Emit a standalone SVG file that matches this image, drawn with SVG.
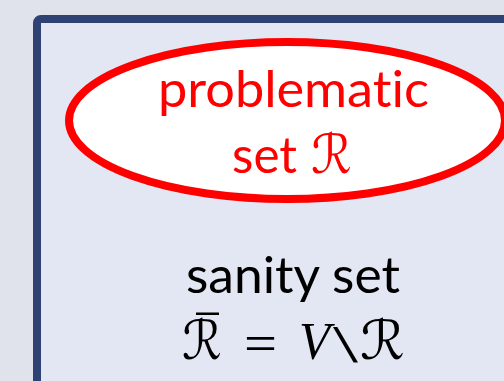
<svg xmlns="http://www.w3.org/2000/svg" width="504" height="381" viewBox="0 0 504 381">
<style>
.t{font-family:Lato,"Open Sans","Liberation Sans",sans-serif;font-size:50px;font-variant-ligatures:none}
.r{font-family:"DejaVu Sans",sans-serif;font-size:54px}
.m{font-family:"Liberation Serif","DejaVu Serif",serif;font-size:52px}
</style>
<rect x="0" y="0" width="504" height="381" fill="#e0e3eb"/>
<g id="frame">
<rect x="37" y="19" width="500" height="400" rx="4" fill="#e3e7f3" stroke="#2e4273" stroke-width="8"/>
</g>
<g id="problematic">
<ellipse cx="287" cy="120.5" rx="218" ry="78.5" fill="#ffffff" stroke="#ff0000" stroke-width="8"/>
<text class="t" x="158" y="107" fill="#ff0000" textLength="271" lengthAdjust="spacingAndGlyphs">problematic</text>
<text class="t" x="232" y="173" fill="#ff0000" textLength="65" lengthAdjust="spacingAndGlyphs">set</text>
<text class="r" x="311" y="173" fill="#ff0000" textLength="41" lengthAdjust="spacingAndGlyphs">ℛ</text>
</g>
<g id="sanity">
<text class="t" x="186" y="293" fill="#000000" textLength="214" lengthAdjust="spacingAndGlyphs">sanity set</text>
<text class="r" x="182" y="359" fill="#000000" textLength="40" lengthAdjust="spacingAndGlyphs">ℛ</text>
<rect x="196" y="312.5" width="23" height="2.5" fill="#000000"/>
<text class="m" x="244" y="361" fill="#000000" font-size="62" textLength="33" lengthAdjust="spacingAndGlyphs">=</text>
<text class="m" x="299" y="359" fill="#000000" font-style="italic" textLength="31" lengthAdjust="spacingAndGlyphs">V</text>
<text class="m" x="333" y="362" fill="#000000" textLength="25" lengthAdjust="spacingAndGlyphs">\</text>
<text class="r" x="360" y="359" fill="#000000" textLength="45" lengthAdjust="spacingAndGlyphs">ℛ</text>
</g>
</svg>
